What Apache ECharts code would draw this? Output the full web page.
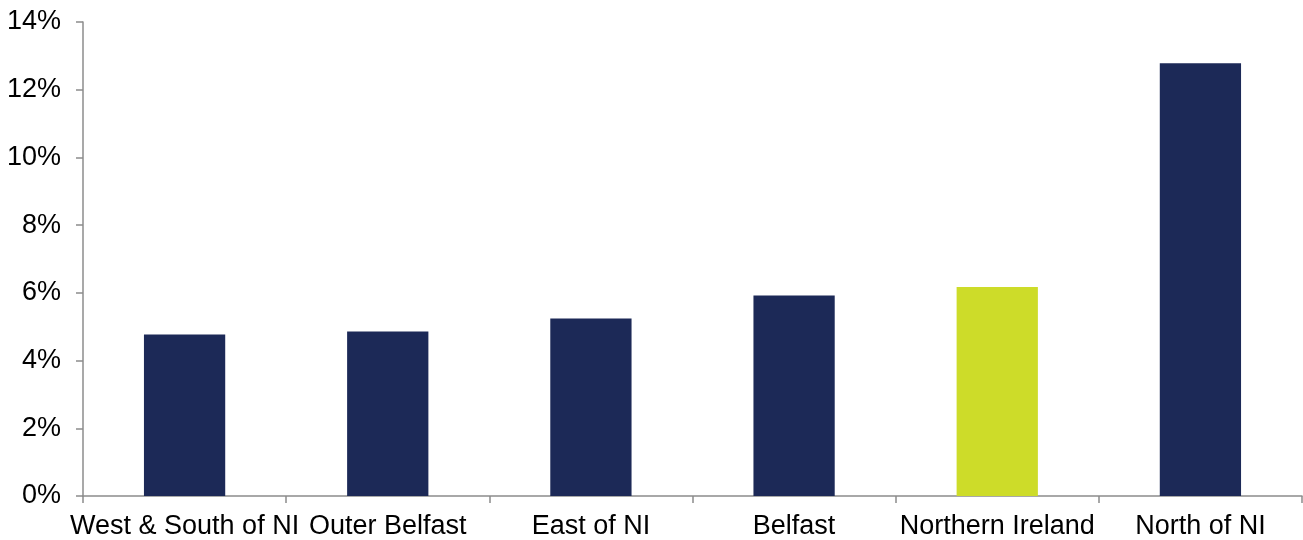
<!DOCTYPE html>
<html>
<head>
<meta charset="utf-8">
<script src="https://cdn.jsdelivr.net/npm/echarts@6/dist/echarts.min.js"></script>
<style>
  html, body { margin: 0; padding: 0; background: #fff; }
  #chart { width: 1303px; height: 540px; }
</style>
</head>
<body>
<div id="chart"></div>
<script>
// regions along the x axis
const regions = ['West & South of NI', 'Outer Belfast', 'East of NI', 'Belfast', 'Northern Ireland', 'North of NI'];
// share, in percent
const shares = [4.77, 4.86, 5.24, 5.92, 6.17, 12.78];
// the Northern Ireland total is highlighted
const highlight = 'Northern Ireland';

const navy = '#1c2957';
const lime = '#cddc29';
const axisGrey = '#8c8c8c';
const labelFont = 'Liberation Sans, Arial, sans-serif';

const chart = echarts.init(document.getElementById('chart'));

const option = {
  animation: false,
  grid: {
    left: 83,
    right: 1,
    top: 22,
    bottom: 44,
    containLabel: false,
    outerBoundsMode: 'none'
  },
  xAxis: {
    type: 'category',
    data: regions,
    boundaryGap: true,
    axisLine: { lineStyle: { color: axisGrey, width: 1.5 } },
    axisTick: { show: true, length: 7, lineStyle: { color: axisGrey, width: 1.5 } },
    axisLabel: {
      interval: 0,
      hideOverlap: false,
      margin: 17,
      color: '#000',
      fontFamily: labelFont,
      fontSize: 27
    },
    splitLine: { show: false }
  },
  yAxis: {
    type: 'value',
    min: 0,
    max: 14,
    interval: 2,
    axisLine: { show: true, lineStyle: { color: axisGrey, width: 1.5 } },
    axisTick: { show: true, length: 7, lineStyle: { color: axisGrey, width: 1.5 } },
    axisLabel: {
      margin: 22,
      color: '#000',
      fontFamily: labelFont,
      fontSize: 27,
      formatter: v => v + '%'
    },
    splitLine: { show: false }
  },
  series: [
    {
      type: 'bar',
      barWidth: '40%',
      data: regions.map((r, i) => ({
        value: shares[i],
        itemStyle: { color: r === highlight ? lime : navy }
      }))
    }
  ]
};

chart.setOption(option);
</script>
</body>
</html>
